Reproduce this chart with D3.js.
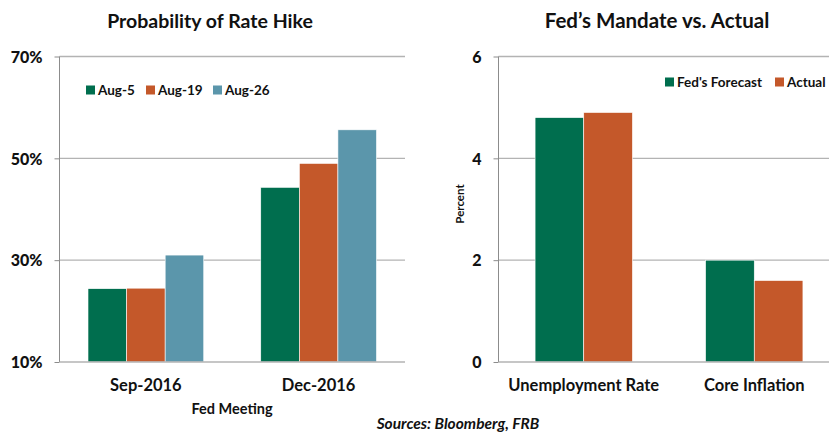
<!DOCTYPE html>
<html>
<head>
<meta charset="utf-8">
<script src="https://cdn.jsdelivr.net/npm/d3@7"></script>
<style>
  body { margin: 0; background: #fff; }
  svg { display: block; font-family: Lato, 'Open Sans', sans-serif; font-weight: 700; }
  .grid line { stroke: #b3b3b3; stroke-width: 1.3; }
  .axis path, .axis line { stroke: #8c8c8c; }
</style>
</head>
<body>
<svg id="chart" width="829" height="432"></svg>
<script>
// left panel: probability of rate hike
const meetings = ['Sep-2016', 'Dec-2016'];
const hikeSeries = ['Aug-5', 'Aug-19', 'Aug-26'];
const hikeValues = [
  [24.4, 24.5, 31.0],
  [44.3, 49.0, 55.6]
];
const hikeTicks = [10, 30, 50, 70];

// right panel: mandate vs actual
const measures = ['Unemployment Rate', 'Core Inflation'];
const mandateSeries = ["Fed's Forecast", 'Actual'];
const mandateValues = [
  [4.8, 4.9],
  [2.0, 1.6]
];
const mandateTicks = [0, 2, 4, 6];

const colors = ['#006e4e', '#c4582a', '#5b96ab'];

const svg = d3.select('#chart');

function panel(opts) {
  const g = svg.append('g');
  const x0 = d3.scaleBand().domain(opts.cats).range([opts.left, opts.right]);
  const x1 = d3.scaleBand().domain(opts.series)
    .range([0, x0.bandwidth() * opts.groupFrac]);
  const y = d3.scaleLinear().domain(opts.domain).range([opts.bottom, opts.top]);

  // gridlines
  g.append('g').attr('class', 'grid')
    .selectAll('line').data(opts.ticks.slice(1)).join('line')
    .attr('x1', opts.left).attr('x2', opts.right)
    .attr('y1', d => y(d)).attr('y2', d => y(d));

  // bars
  const groups = g.selectAll('.grp').data(opts.values).join('g')
    .attr('transform', (d, i) => 'translate(' +
      (x0(opts.cats[i]) + x0.bandwidth() * (1 - opts.groupFrac) / 2) + ',0)');
  groups.selectAll('rect').data(d => d).join('rect')
    .attr('x', (d, j) => x1(opts.series[j]))
    .attr('width', x1.bandwidth())
    .attr('y', d => y(d))
    .attr('height', d => y(opts.domain[0]) - y(d))
    .attr('fill', (d, j) => colors[j])
    .attr('stroke', '#fff').attr('stroke-width', 0.6);

  // y axis
  const yAxis = d3.axisLeft(y).tickValues(opts.ticks).tickSize(5)
    .tickFormat(opts.fmt).tickPadding(opts.tickPad);
  const ya = g.append('g').attr('class', 'axis')
    .attr('transform', 'translate(' + opts.left + ',0)')
    .call(yAxis);
  ya.select('.domain').attr('d', 'M0,' + opts.top + 'V' + opts.bottom);
  ya.selectAll('text').style('font-size', '16px').attr('fill', '#111')
    .style('font-family', 'Lato, sans-serif').style('font-weight', 900)
    .attr('dy', '0.36em');

  // x baseline
  g.append('line')
    .attr('x1', opts.left).attr('x2', opts.right)
    .attr('y1', opts.bottom).attr('y2', opts.bottom)
    .attr('stroke', '#b3b3b3').attr('stroke-width', 1.3);

  // category labels
  g.selectAll('.cat').data(opts.cats).join('text')
    .attr('x', d => x0(d) + x0.bandwidth() / 2)
    .attr('y', opts.bottom + 29)
    .attr('text-anchor', 'middle')
    .style('font-size', '16.5px').attr('fill', '#111')
    .text(d => d);

  // title
  g.append('text')
    .attr('x', opts.titleX).attr('y', 28)
    .attr('text-anchor', 'middle')
    .style('font-size', opts.titleSize).attr('fill', '#111')
    .text(opts.title);

  // legend
  const lg = g.selectAll('.leg').data(opts.series).join('g')
    .attr('transform', (d, i) => 'translate(' + opts.legendX[i] + ',' + opts.legendY + ')');
  lg.append('rect').attr('x', 0).attr('y', -4.5).attr('width', 9).attr('height', 9)
    .attr('fill', (d, i) => colors[i]);
  lg.append('text').attr('x', 12).attr('y', 0).attr('dy', '0.35em')
    .style('font-size', '13.5px').attr('fill', '#111')
    .text(d => d);

  return g;
}

panel({
  cats: meetings, series: hikeSeries, values: hikeValues,
  left: 59.5, right: 405, top: 56.5, bottom: 362,
  domain: [10, 70], ticks: hikeTicks, fmt: d => d + '%', tickPad: 12,
  groupFrac: 0.67, title: 'Probability of Rate Hike', titleX: 210, titleSize: '19.5px',
  legendX: [86, 146, 213], legendY: 90
});

panel({
  cats: measures, series: mandateSeries, values: mandateValues,
  left: 498.5, right: 839.5, top: 56.5, bottom: 362,
  domain: [0, 6], ticks: mandateTicks, fmt: d3.format('d'), tickPad: 12,
  groupFrac: 0.571, title: 'Fed\u2019s Mandate vs. Actual', titleX: 657, titleSize: '20.5px',
  legendX: [665, 775], legendY: 82
});

// axis titles
svg.append('text')
  .attr('x', 232).attr('y', 414)
  .attr('text-anchor', 'middle')
  .style('font-size', '14.5px').attr('fill', '#111')
  .text('Fed Meeting');

svg.append('text')
  .attr('transform', 'translate(464,204) rotate(-90)')
  .attr('text-anchor', 'middle')
  .style('font-size', '11.5px').attr('fill', '#111')
  .text('Percent');

svg.append('text')
  .attr('x', 458).attr('y', 429)
  .attr('text-anchor', 'middle')
  .style('font-size', '15.5px').style('font-style', 'italic').attr('fill', '#111')
  .text('Sources: Bloomberg, FRB');
</script>
</body>
</html>
